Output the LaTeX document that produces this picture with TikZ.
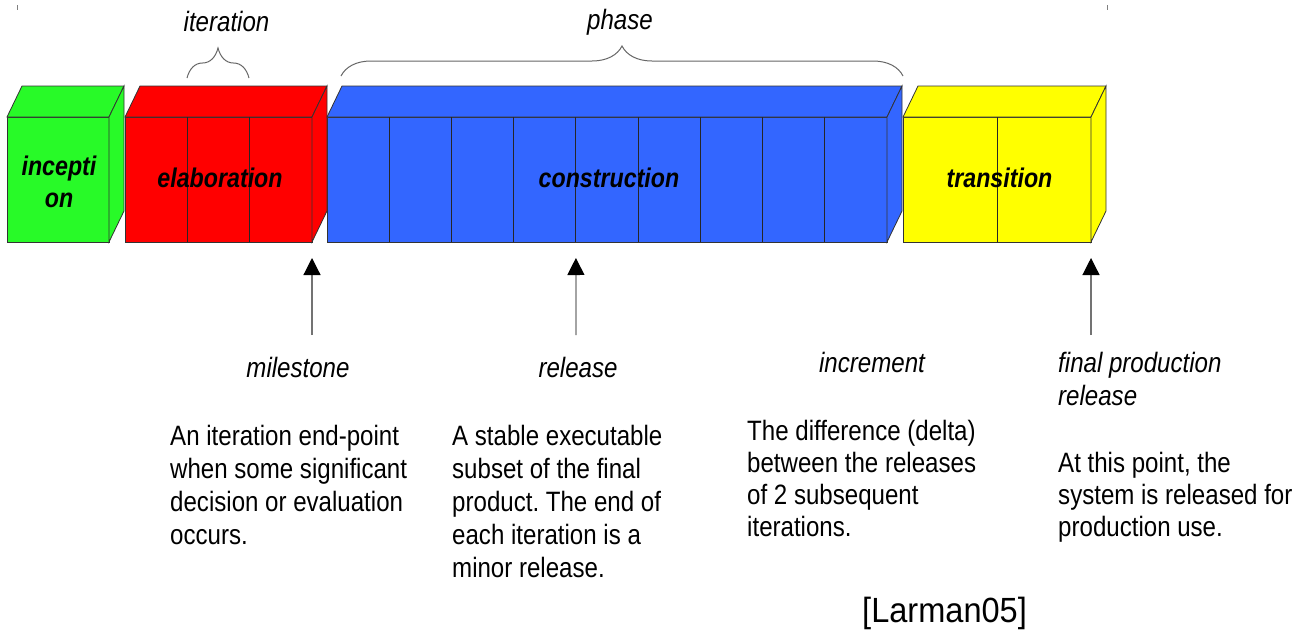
\documentclass[tikz,border=0pt]{standalone}
\usepackage{fontspec}
\setmainfont{Liberation Sans}[FakeStretch=0.86]
\newfontfamily\citefont{Liberation Sans}[FakeStretch=0.93]
\usetikzlibrary{arrows.meta, decorations.pathreplacing, calc}
\frenchspacing

\definecolor{incgreen}{RGB}{40,250,40}
\definecolor{elabred}{RGB}{255,0,0}
\definecolor{consblue}{RGB}{51,102,255}
\definecolor{transyellow}{RGB}{255,255,0}

\newcommand{\termfont}{\itshape\fontsize{28}{33}\selectfont}
\newcommand{\notefont}{\fontsize{28}{33}\selectfont}
\newcommand{\blockfont}{\bfseries\itshape\fontsize{27}{32}\selectfont}

\tikzset{
  block/.style={draw=black!80, line width=0.8pt, minimum height=125pt, inner sep=0pt, outer sep=0pt},
  face/.style={draw=black!80, line width=0.8pt},
  divider/.style={draw=black!85, line width=0.8pt},
  blocklabel/.style={font=\blockfont, align=center, inner sep=0pt},
  term/.style={font=\termfont, inner sep=0pt},
  note/.style={font=\notefont, align=left, anchor=base west, inner sep=0pt},
  pointer/.style={-{Triangle[length=17pt, width=17pt, color=black]}, draw=black!55, line width=1.2pt},
  bracket/.style={decorate, decoration={brace, amplitude=30pt}, draw=black!60, line width=1pt},
}

\begin{document}
\begin{tikzpicture}[x=1pt, y=-1pt]
  \useasboundingbox (0,0) rectangle (1303,635);

  % phases
  \node[block, fill=incgreen, minimum width=102pt] (incep) at (58,179.5) {};
  \node[block, fill=elabred, minimum width=187pt] (elab) at (218.5,179.5) {};
  \node[block, fill=consblue, minimum width=560pt] (constr) at (607,179.5) {};
  \node[block, fill=transyellow, minimum width=188pt] (trans) at (997,179.5) {};

  % top and side faces
  \foreach \blk/\col in {incep/incgreen, elab/elabred, constr/consblue, trans/transyellow} {
    \draw[face, fill=\col] (\blk.north west) -- ++(15,-31) -- ([shift={(15,-31)}]\blk.north east) -- (\blk.north east) -- cycle;
    \draw[face, fill=\col] (\blk.north east) -- ++(15,-31) -- ([shift={(15,-31)}]\blk.south east) -- (\blk.south east) -- cycle;
  }

  % iterations
  \foreach \i in {1,2}
    \draw[divider] ($(elab.north west)!\i/3!(elab.north east)$) -- ($(elab.south west)!\i/3!(elab.south east)$);
  \foreach \i in {1,...,8}
    \draw[divider] ($(constr.north west)!\i/9!(constr.north east)$) -- ($(constr.south west)!\i/9!(constr.south east)$);
  \draw[divider] (trans.north) -- (trans.south);

  % phase names
  \node[blocklabel] (incep-t) at ($(incep.center)+(1,2)$) {incepti\\on};
  \node[blocklabel] (elab-t) at ($(elab.center)+(1.5,-1.5)$) {elaboration};
  \node[blocklabel] (constr-t) at ($(constr.center)+(2,-1.5)$) {construction};
  \node[blocklabel] (trans-t) at ($(trans.center)+(2.5,-1.5)$) {transition};

  % braces
  \draw[bracket] (187,78) -- (249,78);
  \node[term, anchor=base] (iter) at (226.5,31) {iteration};
  \draw[bracket] (341,76) -- (903,76);
  \node[term, anchor=base] (phase) at (620,29) {phase};

  % marks
  \draw[black!50, line width=0.6pt] (17,5) -- (17,10);
  \draw[black!50, line width=0.6pt] (1107,5) -- (1107,10);

  % pointers
  \coordinate (ms-foot) at (312,335);
  \coordinate (rel-foot) at (576,335);
  \coordinate (fin-foot) at (1091,335);
  \draw[pointer] (ms-foot) -- ($(elab.south east)+(0,16)$);
  \draw[pointer] (rel-foot) -- ($(constr.south west)!4/9!(constr.south east)+(0,16)$);
  \draw[pointer] (fin-foot) -- ($(trans.south east)+(0,16)$);

  % terms
  \node[term, anchor=base] (milestone) at (298,377) {milestone};
  \node[term, anchor=base] (release) at (578,377) {release};
  \node[term, anchor=base] (increment) at (872,372) {increment};
  \node[term, align=left, anchor=base west] (final) at (1058,405) {final production\\release};

  % notes (anchored at the last line)
  \node[note] (ms-note) at (170,544) {An iteration end-point\\when some significant\\decision or evaluation\\occurs.};
  \node[note] (rel-note) at (452,577) {A stable executable\\subset of the final\\product. The end of\\each iteration is a\\minor release.};
  \node[note, font=\fontsize{28}{32}\selectfont] (inc-note) at (747,536) {The difference (delta)\\between the releases\\of 2 subsequent\\iterations.};
  \node[note, font=\fontsize{28}{32}\selectfont] (fin-note) at (1058,536) {At this point, the\\system is released for\\production use.};

  \node[font=\citefont\fontsize{35}{40}\selectfont, anchor=base west, inner sep=0pt] (cite) at (862,622) {[Larman05]};
\end{tikzpicture}
\end{document}
